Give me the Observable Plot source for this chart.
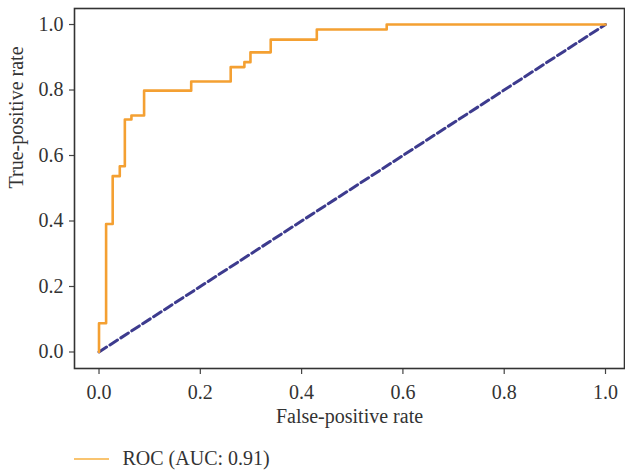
<!DOCTYPE html>
<html>
<head>
<meta charset="utf-8">
<script src="https://cdn.jsdelivr.net/npm/d3@7"></script>
<script src="https://cdn.jsdelivr.net/npm/@observablehq/plot@0.6"></script>
<style>
  html, body { margin: 0; padding: 0; background: #fff; }
  #chart { position: relative; width: 625px; }
  #legend { position: relative; width: 625px; height: 42px; font-family: "Liberation Serif", "DejaVu Serif", serif; font-size: 20px; color: #333; }
</style>
</head>
<body>
<div id="chart"></div>
<div id="legend"></div>
<script>
// ROC curve corner points (false-positive rate, true-positive rate)
const fpr = [0, 0, 0.014, 0.014, 0.027, 0.027, 0.041, 0.041, 0.051, 0.051, 0.064, 0.064, 0.089, 0.089, 0.182, 0.182, 0.260, 0.260, 0.287, 0.287, 0.299, 0.299, 0.339, 0.339, 0.430, 0.430, 0.568, 0.568, 1.0];
const tpr = [0, 0.088, 0.088, 0.391, 0.391, 0.537, 0.537, 0.567, 0.567, 0.710, 0.710, 0.722, 0.722, 0.798, 0.798, 0.826, 0.826, 0.870, 0.870, 0.885, 0.885, 0.915, 0.915, 0.954, 0.954, 0.985, 0.985, 1.0, 1.0];
// chance diagonal
const chanceX = [0, 1];
const chanceY = [0, 1];
const tickValues = [0, 0.2, 0.4, 0.6, 0.8, 1.0];
const xLabel = "False-positive rate";
const yLabel = "True-positive rate";
const legendLabel = "ROC (AUC: 0.91)";

const roc = fpr.map((f, i) => ({x: f, y: tpr[i]}));
const chance = chanceX.map((c, i) => ({x: c, y: chanceY[i]}));

const font = "Liberation Serif, DejaVu Serif, serif";
const chart = Plot.plot({
  width: 625,
  height: 432,
  marginLeft: 74,
  marginRight: 1,
  marginTop: 8,
  marginBottom: 64,
  style: {fontFamily: font, fontSize: "20px", color: "#333", background: "#fff"},
  x: {domain: [-0.0484, 1.0375], ticks: tickValues, tickFormat: d3.format(".1f"), label: null},
  y: {domain: [-0.0504, 1.0489], ticks: tickValues, tickFormat: d3.format(".1f"), label: null},
  marks: [
    Plot.axisX({ticks: tickValues, tickFormat: d3.format(".1f"), tickSize: 6, tickPadding: 10, label: null, stroke: "#444", strokeWidth: 1.2}),
    Plot.axisY({ticks: tickValues, tickFormat: d3.format(".1f"), tickSize: 5, tickPadding: 6, label: null, stroke: "#444", strokeWidth: 1.2}),
    Plot.line(chance, {x: "x", y: "y", stroke: "#3d3b8e", strokeWidth: 3, strokeDasharray: "9,4"}),
    Plot.line(roc, {x: "x", y: "y", stroke: "#f4a032", strokeWidth: 2.6}),
    Plot.frame({stroke: "#333", strokeWidth: 1.6}),
    Plot.text([xLabel], {frameAnchor: "bottom", dy: 54, text: d => d, fontSize: 20, fill: "#333"}),
    Plot.text([yLabel], {frameAnchor: "left", dx: -58, rotate: -90, text: d => d, fontSize: 20, fill: "#333"})
  ]
});
document.getElementById("chart").appendChild(chart);

const leg = document.getElementById("legend");
const ns = "http://www.w3.org/2000/svg";
const svg = document.createElementNS(ns, "svg");
svg.setAttribute("width", 625);
svg.setAttribute("height", 42);
const ln = document.createElementNS(ns, "line");
ln.setAttribute("x1", 74); ln.setAttribute("x2", 109);
ln.setAttribute("y1", 27); ln.setAttribute("y2", 27);
ln.setAttribute("stroke", "#f7b041"); ln.setAttribute("stroke-width", 1.6);
svg.appendChild(ln);
const tx = document.createElementNS(ns, "text");
tx.setAttribute("x", 122.5); tx.setAttribute("y", 33);
tx.setAttribute("font-family", font); tx.setAttribute("font-size", 20);
tx.setAttribute("fill", "#333");
tx.textContent = legendLabel;
svg.appendChild(tx);
leg.appendChild(svg);
</script>
</body>
</html>
